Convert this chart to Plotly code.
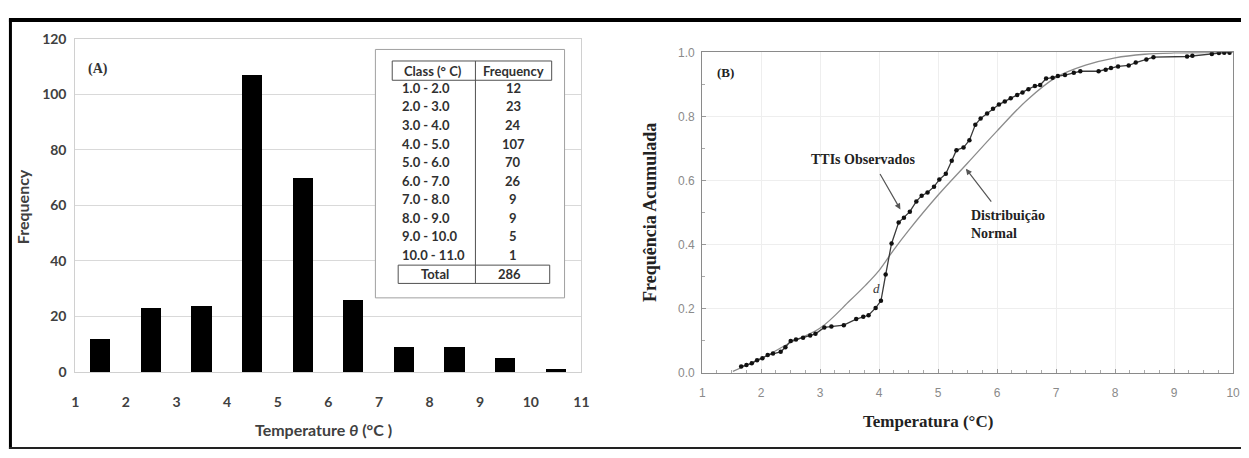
import plotly.graph_objects as go

# ---------------- Panel A: class frequencies ----------------
class_lo = [1.0, 2.0, 3.0, 4.0, 5.0, 6.0, 7.0, 8.0, 9.0, 10.0]
class_hi = [2.0, 3.0, 4.0, 5.0, 6.0, 7.0, 8.0, 9.0, 10.0, 11.0]
class_labels = ["1.0 - 2.0", "2.0 - 3.0", "3.0 - 4.0", "4.0 - 5.0", "5.0 - 6.0",
                "6.0 - 7.0", "7.0 - 8.0", "8.0 - 9.0", "9.0 - 10.0", "10.0 - 11.0"]
frequency = [12, 23, 24, 107, 70, 26, 9, 9, 5, 1]
total_count = 286
a_xticks = list(range(1, 12))
a_yticks = [0, 20, 40, 60, 80, 100, 120]

# ---------------- Panel B: cumulative frequency ----------------
obs_temp = [1.66, 1.75, 1.84, 1.93, 2.02, 2.11, 2.20, 2.33, 2.41, 2.50, 2.59, 2.71,
            2.83, 2.92, 3.07, 3.19, 3.40, 3.61, 3.73, 3.82, 3.94, 4.03, 4.11, 4.21,
            4.33, 4.42, 4.52, 4.63, 4.72, 4.82, 4.93, 5.02, 5.13, 5.23, 5.31, 5.43,
            5.53, 5.63, 5.72, 5.83, 5.93, 6.03, 6.13, 6.23, 6.34, 6.43, 6.53, 6.64,
            6.73, 6.83, 6.94, 7.03, 7.15, 7.30, 7.41, 7.72, 7.84, 7.93, 8.05, 8.23,
            8.35, 8.53, 8.65, 9.22, 9.31, 9.64, 9.76, 9.85, 9.94]
obs_freq = [0.020, 0.025, 0.030, 0.040, 0.046, 0.056, 0.061, 0.066, 0.080, 0.100,
            0.104, 0.110, 0.117, 0.122, 0.142, 0.145, 0.149, 0.168, 0.175, 0.180,
            0.203, 0.225, 0.307, 0.404, 0.469, 0.484, 0.503, 0.535, 0.553, 0.563,
            0.581, 0.603, 0.621, 0.662, 0.695, 0.703, 0.726, 0.774, 0.794, 0.809,
            0.824, 0.837, 0.847, 0.857, 0.867, 0.875, 0.885, 0.895, 0.898, 0.918,
            0.921, 0.926, 0.929, 0.936, 0.941, 0.941, 0.946, 0.951, 0.956, 0.959,
            0.968, 0.978, 0.985, 0.987, 0.989, 0.995, 0.998, 0.999, 0.999]
norm_temp = [1.52, 2.0, 2.5, 3.0, 3.5, 3.75, 4.0, 4.25, 4.5, 5.0, 5.5, 6.0, 6.5,
             7.0, 7.5, 8.0, 8.5, 9.0, 10.0]
norm_freq = [0.005, 0.045, 0.095, 0.140, 0.225, 0.270, 0.320, 0.385, 0.445, 0.555,
             0.655, 0.755, 0.850, 0.922, 0.960, 0.983, 0.994, 0.998, 1.0]
b_xticks = list(range(1, 11))
b_yticks = [0.0, 0.2, 0.4, 0.6, 0.8, 1.0]

W, H = 1249, 458


def px(x):
    return x / W


def py(y):
    return 1 - y / H


SANS = "Lato"
SERIF = "Liberation Serif"

fig = go.Figure()

centers = [(lo + hi) / 2 for lo, hi in zip(class_lo, class_hi)]
fig.add_trace(go.Bar(x=centers, y=frequency, width=0.4, marker=dict(color="black", line=dict(width=0)),
                     xaxis="x", yaxis="y", showlegend=False))

fig.add_trace(go.Scatter(x=norm_temp, y=norm_freq, mode="lines", line=dict(color="#8c8c8c", width=1.3, shape="spline"),
                         xaxis="x2", yaxis="y2", showlegend=False))
fig.add_trace(go.Scatter(x=obs_temp, y=obs_freq, mode="lines+markers",
                         line=dict(color="#3a3a3a", width=1.3),
                         marker=dict(color="#111111", size=4.5),
                         xaxis="x2", yaxis="y2", showlegend=False))

grey_a = "#404040"
fig.update_layout(
    width=W, height=H,
    margin=dict(l=0, r=0, t=0, b=0),
    paper_bgcolor="white", plot_bgcolor="white",
    bargap=0,
    xaxis=dict(domain=[px(72), px(583)], range=[1, 11], tickvals=a_xticks,
               showgrid=False, zeroline=False, showline=True, linecolor="#d0d0d0", mirror=True,
               ticks="outside", ticklen=17, tickcolor="rgba(0,0,0,0)",
               tickfont=dict(family=SANS, size=14, color=grey_a, weight="bold"), anchor="y"),
    yaxis=dict(domain=[py(377), py(31)], range=[0, 120], tickvals=a_yticks,
               showgrid=True, gridcolor="#d9d9d9", gridwidth=1, zeroline=False,
               showline=True, linecolor="#d0d0d0", mirror=True,
               ticks="outside", ticklen=5, tickcolor="rgba(0,0,0,0)",
               tickfont=dict(family=SANS, size=14, color=grey_a, weight="bold"), anchor="x"),
    xaxis2=dict(domain=[px(705), px(1241)], range=[1, 10], tickvals=b_xticks,
                showgrid=True, gridcolor="#eeeeee", zeroline=False,
                showline=True, linecolor="#8a8a8a", linewidth=1.2, mirror=True,
                ticks="inside", ticklen=4, tickcolor="#999999", ticklabelstandoff=9,
                minor=dict(dtick=0.25, ticks="inside", ticklen=3, tickcolor="#aaaaaa", showgrid=False),
                tickfont=dict(family="Liberation Sans", size=12, color="#8a8a8a"), anchor="y2"),
    yaxis2=dict(domain=[py(378), py(45)], range=[0, 1.0], tickvals=b_yticks, tickformat=".1f",
                showgrid=True, gridcolor="#eeeeee", zeroline=False,
                showline=True, linecolor="#8a8a8a", linewidth=1.2, mirror=True,
                ticks="inside", ticklen=4, tickcolor="#999999", ticklabelstandoff=4,
                minor=dict(dtick=0.1, ticks="inside", ticklen=3, tickcolor="#aaaaaa", showgrid=False),
                tickfont=dict(family="Liberation Sans", size=12, color="#8a8a8a"), anchor="x2"),
)

shapes = []
ann = []

# frame around the figure
shapes.append(dict(type="line", xref="paper", yref="paper", x0=px(5), x1=1, y0=py(11.5), y1=py(11.5),
                   line=dict(color="black", width=4)))
shapes.append(dict(type="line", xref="paper", yref="paper", x0=px(6.5), x1=px(6.5), y0=py(10), y1=py(457),
                   line=dict(color="black", width=3)))
shapes.append(dict(type="line", xref="paper", yref="paper", x0=px(5), x1=1, y0=py(456), y1=py(456),
                   line=dict(color="#222222", width=2)))

# frequency table inside panel A
tcol = "#303030"
shapes.append(dict(type="rect", xref="paper", yref="paper", x0=px(375), x1=px(566), y0=py(300), y1=py(42),
                   line=dict(color="#a0a0a0", width=1), fillcolor="white", layer="above"))
shapes.append(dict(type="rect", xref="paper", yref="paper", x0=px(392), x1=px(553), y0=py(74), y1=py(54),
                   line=dict(color="#505050", width=1), layer="above"))
shapes.append(dict(type="rect", xref="paper", yref="paper", x0=px(398), x1=px(551), y0=py(285), y1=py(266),
                   line=dict(color="#505050", width=1), layer="above"))
shapes.append(dict(type="line", xref="paper", yref="paper", x0=px(476), x1=px(476), y0=py(54), y1=py(285),
                   line=dict(color="#505050", width=1), layer="above"))

tfont = dict(family=SANS, size=13, color=tcol, weight="bold")
ann.append(dict(xref="paper", yref="paper", x=px(433), y=py(64), text="Class (° C)", showarrow=False,
                font=tfont, xanchor="center", yanchor="middle"))
ann.append(dict(xref="paper", yref="paper", x=px(514), y=py(64), text="Frequency", showarrow=False,
                font=tfont, xanchor="center", yanchor="middle"))
row_y0, row_step = 82.0, 19.25
for i, (lab, f) in enumerate(zip(class_labels, frequency)):
    yy = row_y0 + i * row_step
    ann.append(dict(xref="paper", yref="paper", x=px(400), y=py(yy), text=lab, showarrow=False,
                    font=tfont, xanchor="left", yanchor="middle"))
    ann.append(dict(xref="paper", yref="paper", x=px(514), y=py(yy), text=str(f), showarrow=False,
                    font=tfont, xanchor="center", yanchor="middle"))
ann.append(dict(xref="paper", yref="paper", x=px(435), y=py(275.5), text="Total", showarrow=False,
                font=tfont, xanchor="center", yanchor="middle"))
ann.append(dict(xref="paper", yref="paper", x=px(510), y=py(275.5), text=str(total_count), showarrow=False,
                font=tfont, xanchor="center", yanchor="middle"))

# panel A titles and tag
ann.append(dict(xref="paper", yref="paper", x=px(95), y=py(62), text="(A)", showarrow=False,
                font=dict(family=SERIF, size=14, color="#333333", weight="bold"), xanchor="center", yanchor="middle"))
ann.append(dict(xref="paper", yref="paper", x=px(19), y=py(205), text="Frequency", showarrow=False, textangle=-90,
                font=dict(family=SANS, size=16, color=grey_a, weight="bold"), xanchor="center", yanchor="middle"))
ann.append(dict(xref="paper", yref="paper", x=px(323), y=py(437), text="Temperature <i>θ</i> (°C )", showarrow=False,
                font=dict(family=SANS, size=16, color=grey_a, weight="bold"), xanchor="center", yanchor="middle"))

# panel B titles and labels
sfont = dict(family=SERIF, size=14, color="#222222", weight="bold")
ann.append(dict(xref="paper", yref="paper", x=px(729), y=py(66), text="(B)", showarrow=False,
                font=dict(family=SERIF, size=13, color="#222222", weight="bold"), xanchor="center", yanchor="middle"))
ann.append(dict(xref="paper", yref="paper", x=px(652), y=py(211), text="Frequência Acumulada", showarrow=False,
                textangle=-90, font=dict(family=SERIF, size=18, color="#222222", weight="bold"),
                xanchor="center", yanchor="middle"))
ann.append(dict(xref="paper", yref="paper", x=px(933), y=py(428), text="Temperatura (°C)", showarrow=False,
                font=dict(family=SERIF, size=17, color="#222222", weight="bold"), xanchor="center", yanchor="middle"))
ann.append(dict(xref="x2", yref="y2", x=3.73, y=0.667, text="TTIs Observados", showarrow=False,
                font=sfont, xanchor="center", yanchor="middle"))
ann.append(dict(xref="x2", yref="y2", x=5.53, y=0.464, text="Distribuição<br>Normal", showarrow=False,
                font=sfont, xanchor="left", yanchor="middle", align="left"))
ann.append(dict(xref="x2", yref="y2", x=3.95, y=0.262, text="<i>d</i>", showarrow=False,
                font=dict(family=SERIF, size=13, color="#333333"), xanchor="center", yanchor="middle"))

# arrows pointing at the two curves
ann.append(dict(xref="x2", yref="y2", axref="x2", ayref="y2", x=4.36, y=0.51, ax=4.0, ay=0.625, text="",
                showarrow=True, arrowhead=2, arrowsize=1, arrowwidth=1.2, arrowcolor="#555555"))
ann.append(dict(xref="x2", yref="y2", axref="x2", ayref="y2", x=5.47, y=0.637, ax=5.92, ay=0.53, text="",
                showarrow=True, arrowhead=2, arrowsize=1, arrowwidth=1.2, arrowcolor="#555555"))

fig.update_layout(shapes=shapes, annotations=ann)

fig.write_html("out.html")
